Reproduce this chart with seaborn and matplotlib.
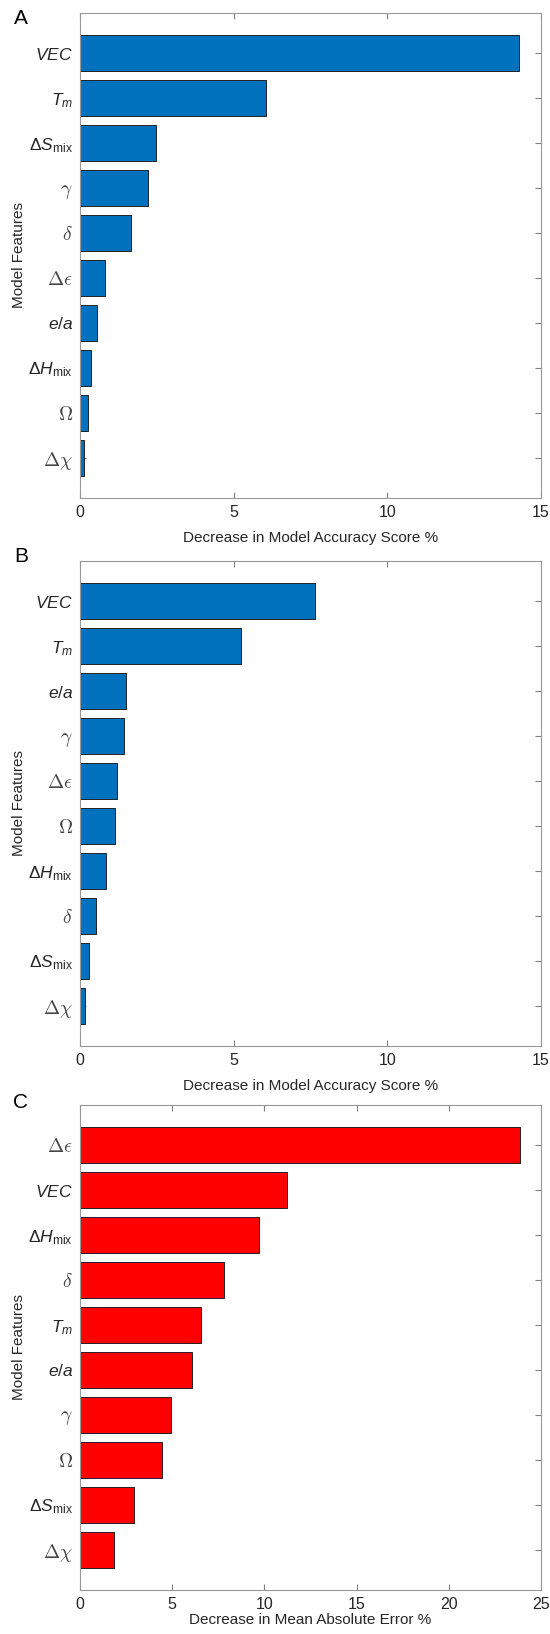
import matplotlib
matplotlib.use("Agg")
import matplotlib.pyplot as plt
import seaborn as sns
import pandas as pd

# Panel A: classification, accuracy drop
feat_a = [r"$VEC$", r"$T_m$", r"$\Delta S_{\mathrm{mix}}$", r"$\gamma$", r"$\delta$",
          r"$\Delta\epsilon$", r"$e/a$", r"$\Delta H_{\mathrm{mix}}$", r"$\Omega$", r"$\Delta\chi$"]
vals_a = [14.27, 6.04, 2.48, 2.20, 1.65, 0.82, 0.54, 0.37, 0.26, 0.14]

# Panel B: classification, accuracy drop
feat_b = [r"$VEC$", r"$T_m$", r"$e/a$", r"$\gamma$", r"$\Delta\epsilon$",
          r"$\Omega$", r"$\Delta H_{\mathrm{mix}}$", r"$\delta$", r"$\Delta S_{\mathrm{mix}}$", r"$\Delta\chi$"]
vals_b = [7.65, 5.24, 1.51, 1.42, 1.21, 1.13, 0.84, 0.52, 0.30, 0.15]

# Panel C: regression, MAE drop
feat_c = [r"$\Delta\epsilon$", r"$VEC$", r"$\Delta H_{\mathrm{mix}}$", r"$\delta$", r"$T_m$",
          r"$e/a$", r"$\gamma$", r"$\Omega$", r"$\Delta S_{\mathrm{mix}}$", r"$\Delta\chi$"]
vals_c = [23.85, 11.23, 9.69, 7.81, 6.55, 6.09, 4.95, 4.45, 2.93, 1.84]

xlabels = ["Decrease in Model Accuracy Score %",
           "Decrease in Model Accuracy Score %",
           "Decrease in Mean Absolute Error %"]
xmax = [15, 15, 25]
colors = ["#0072BD", "#0072BD", "#FF0000"]
letters = ["A", "B", "C"]

sns.set_style("white")
plt.rcParams["font.family"] = ["Liberation Sans", "DejaVu Sans"]
plt.rcParams["mathtext.fontset"] = "custom"
plt.rcParams["mathtext.rm"] = "Liberation Sans"
plt.rcParams["mathtext.it"] = "Liberation Sans:italic"
plt.rcParams["mathtext.bf"] = "Liberation Sans:bold"

greek = ("gamma", "delta", "epsilon", "Omega", "chi")
text_col = "#262626"

fig = plt.figure(figsize=(5.5, 16.34), dpi=100)
W, H = 550, 1634
tops = [13, 561, 1105]
letter_y = [18, 556, 1103]
xpads = [8, 8, 1]
axes = []

for i, (feats, vals) in enumerate([(feat_a, vals_a), (feat_b, vals_b), (feat_c, vals_c)]):
    top = tops[i]
    ax = fig.add_axes([80 / W, 1 - (top + 485) / H, 461 / W, 485 / H])
    df = pd.DataFrame({"feature": feats, "value": vals})
    sns.barplot(data=df, x="value", y="feature", orient="h", color=colors[i],
                saturation=1, width=0.8, edgecolor="#222222", linewidth=0.7, ax=ax)
    ax.set_xlim(0, xmax[i])
    ax.set_ylim(9.9, -0.9)
    ax.set_xticks(range(0, xmax[i] + 1, 5))
    ax.set_yticks(range(len(feats)), feats)
    ax.set_xlabel(xlabels[i], fontsize=11, color=text_col, labelpad=xpads[i])
    ax.set_ylabel("Model Features", fontsize=11, color=text_col)
    ax.yaxis.set_label_coords(-0.117, 0.5)
    ax.tick_params(axis="x", direction="in", length=4, top=True, bottom=True,
                   labelsize=11.5, colors="#808080", labelcolor=text_col, pad=5)
    ax.tick_params(axis="y", direction="in", length=4, left=True, right=True,
                   labelsize=12.5, colors="#808080", labelcolor=text_col, pad=5)
    for s in ax.spines.values():
        s.set_visible(True)
        s.set_color("#999999")
        s.set_linewidth(0.8)
    fig.text(21 / W, 1 - letter_y[i] / H, letters[i], fontsize=15,
             ha="center", va="center", color="black")
    axes.append(ax)

# greek symbols in Computer Modern, like the LaTeX interpreter
fig.canvas.draw()
for ax in axes:
    for tick in ax.yaxis.get_major_ticks():
        lab = tick.label1
        if any(g in lab.get_text() for g in greek):
            lab.set_math_fontfamily("cm")
            lab.set_fontsize(14)
            lab.set_color("#444444")

fig.savefig("out.png", dpi=100)
